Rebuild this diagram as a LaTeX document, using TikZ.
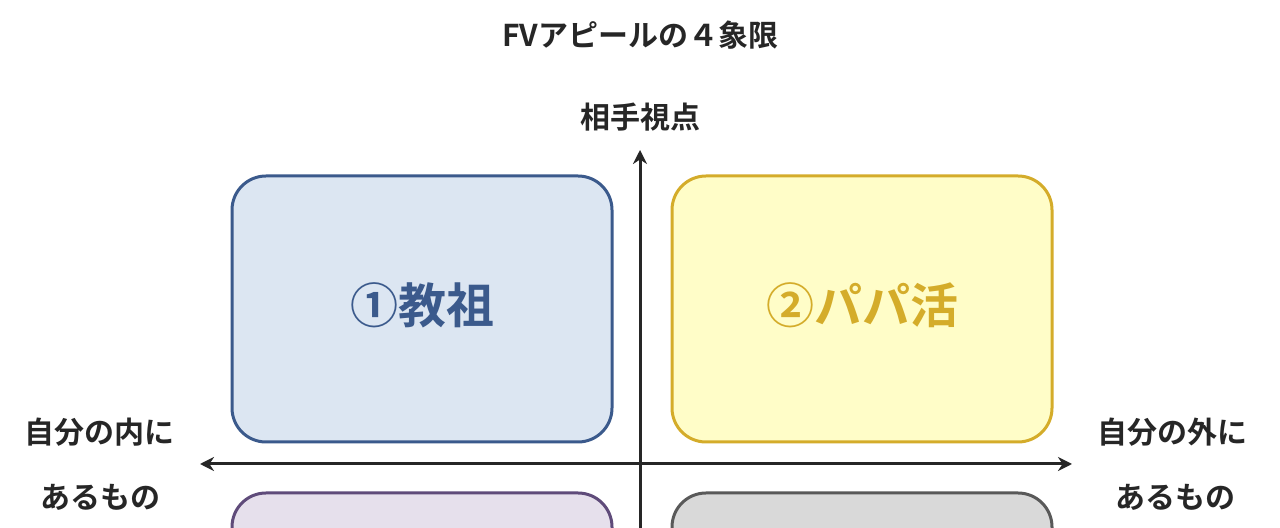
\documentclass[tikz,border=0pt]{standalone}
\usepackage{fontspec}
\setmainfont{Noto Sans CJK JP Bold}
\usetikzlibrary{arrows.meta}
\definecolor{bluebd}{HTML}{3B5A8C}\definecolor{bluefl}{HTML}{DCE6F2}
\definecolor{yelbd}{HTML}{D4AC2A}\definecolor{yelfl}{HTML}{FFFDC8}
\definecolor{purbd}{HTML}{5F4B7A}\definecolor{purfl}{HTML}{E6E0EC}
\definecolor{grybd}{HTML}{595959}\definecolor{gryfl}{HTML}{D9D9D9}
\definecolor{txt}{HTML}{262626}
\tikzset{quad/.style={draw,line width=1.5pt,rounded corners=17pt},
 lbl/.style={text=txt,font=\fontsize{15}{18}\selectfont,inner sep=0pt},
 axis/.style={line width=1.5pt,txt,-{Stealth[length=7pt,width=7pt]}}}
\begin{document}
\begin{tikzpicture}[x=0.5pt,y=-0.5pt]
\useasboundingbox (0,0) rectangle (1280,528);
\clip (0,0) rectangle (1280,528);
\fill[white] (0,0) rectangle (1280,528);
\node[lbl] (title) at (640,35) {FVアピールの４象限};
\node[lbl] (top) at (640,117) {相手視点};
\node[lbl] (li1) at (100,432) {自分の内に};
\node[lbl] (li2) at (100,497) {あるもの};
\node[lbl] (ro1) at (1172,432) {自分の外に};
\node[lbl] (ro2) at (1175,497) {あるもの};
\draw[quad,bluebd,fill=bluefl] (232,176) rectangle (612,442);
\draw[quad,yelbd,fill=yelfl] (672,176) rectangle (1052,442);
\draw[quad,purbd,fill=purfl] (232,493) rectangle (612,760);
\draw[quad,grybd,fill=gryfl] (672,493) rectangle (1052,760);
\node[text=bluebd,font=\fontsize{24}{28}\selectfont] (q1) at (422,305) {①教祖};
\node[text=yelbd,font=\fontsize{24}{28}\selectfont] (q2) at (862,305) {②パパ活};
\coordinate (vb) at (640,540);
\coordinate (vt) at (640,150);
\coordinate (hl) at (200,464);
\coordinate (hr) at (1072,464);
\draw[axis] (vb) -- (vt);
\draw[axis,{Stealth[length=7pt,width=7pt]}-{Stealth[length=7pt,width=7pt]}] (hl) -- (hr);
\end{tikzpicture}
\end{document}
